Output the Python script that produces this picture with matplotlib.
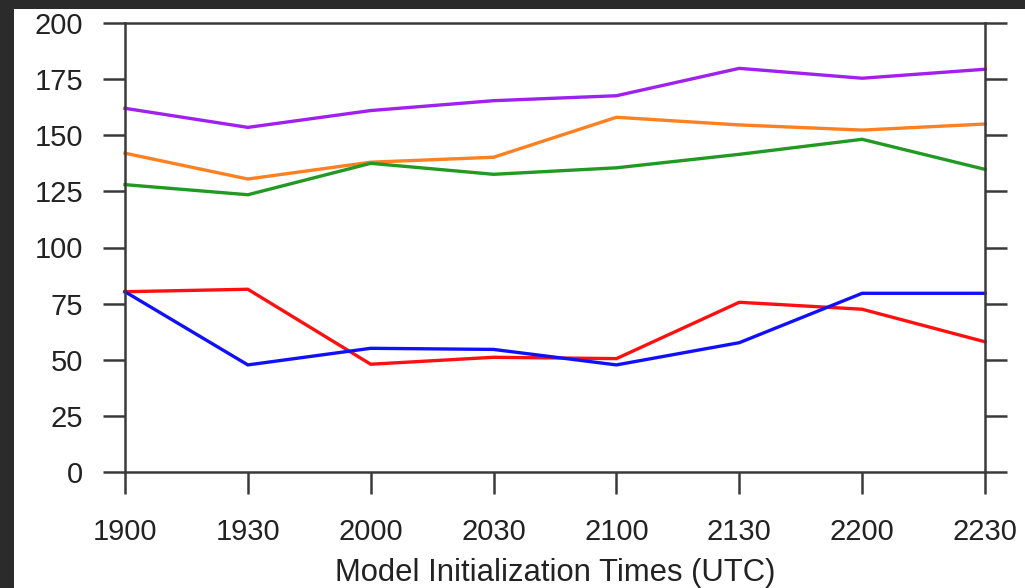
import matplotlib
matplotlib.use("Agg")
import matplotlib.pyplot as plt
from matplotlib.patches import Rectangle

# model initialization times
tempos = ["1900", "1930", "2000", "2030", "2100", "2130", "2200", "2230"]

roxo = [162, 153.5, 161, 165.4, 167.6, 179.8, 175.4, 179.4]
laranja = [142, 130.5, 138, 140.2, 158, 154.6, 152.3, 155]
verde = [128, 123.5, 137.5, 132.6, 135.5, 141.5, 148.2, 134.8]
vermelho = [80.3, 81.4, 48, 51.1, 50.5, 75.6, 72.5, 58]
azul = [80.3, 47.7, 55.1, 54.6, 47.7, 57.6, 79.6, 79.6]

series = [roxo, laranja, verde, vermelho, azul]
cores = ["#a020f0", "#ff8020", "#229922", "#ff1010", "#1010ff"]

plt.rcParams['font.family'] = ['Liberation Sans', 'DejaVu Sans']

fig = plt.figure(figsize=(10.25, 5.88), dpi=100, facecolor="#2b2b2b")
fundo = Rectangle((14 / 1025, 0), 1 - 14 / 1025, 1 - 9 / 588,
                  transform=fig.transFigure, facecolor="white",
                  edgecolor="none", zorder=-10)
fig.add_artist(fundo)
ax = fig.add_axes([125 / 1025, 1 - 472 / 588, 860 / 1025, 449 / 588])
ax.set_facecolor("none")

x = list(range(len(tempos)))
for s, c in zip(series, cores):
    ax.plot(x, s, color=c, lw=2.4, solid_joinstyle="miter", clip_on=False)

ax.set_xlim(0, len(tempos) - 1)
ax.set_ylim(0, 200)
ax.set_xticks(x)
ax.set_xticklabels(tempos)
ax.set_yticks(range(0, 201, 25))

for sp in ax.spines.values():
    sp.set_color("#3a3a3a")
    sp.set_linewidth(1.8)

ax.tick_params(axis="both", direction="out", length=16, width=1.8,
               color="#3a3a3a", labelsize=21, labelcolor="#222222")
ax.tick_params(axis="y", right=True, pad=14)
ax.tick_params(axis="x", pad=17)

ax.set_xlabel("Model Initialization Times (UTC)", fontsize=22.3,
              color="#222222", labelpad=9)

fig.savefig("out.png", dpi=100, facecolor=fig.get_facecolor())
